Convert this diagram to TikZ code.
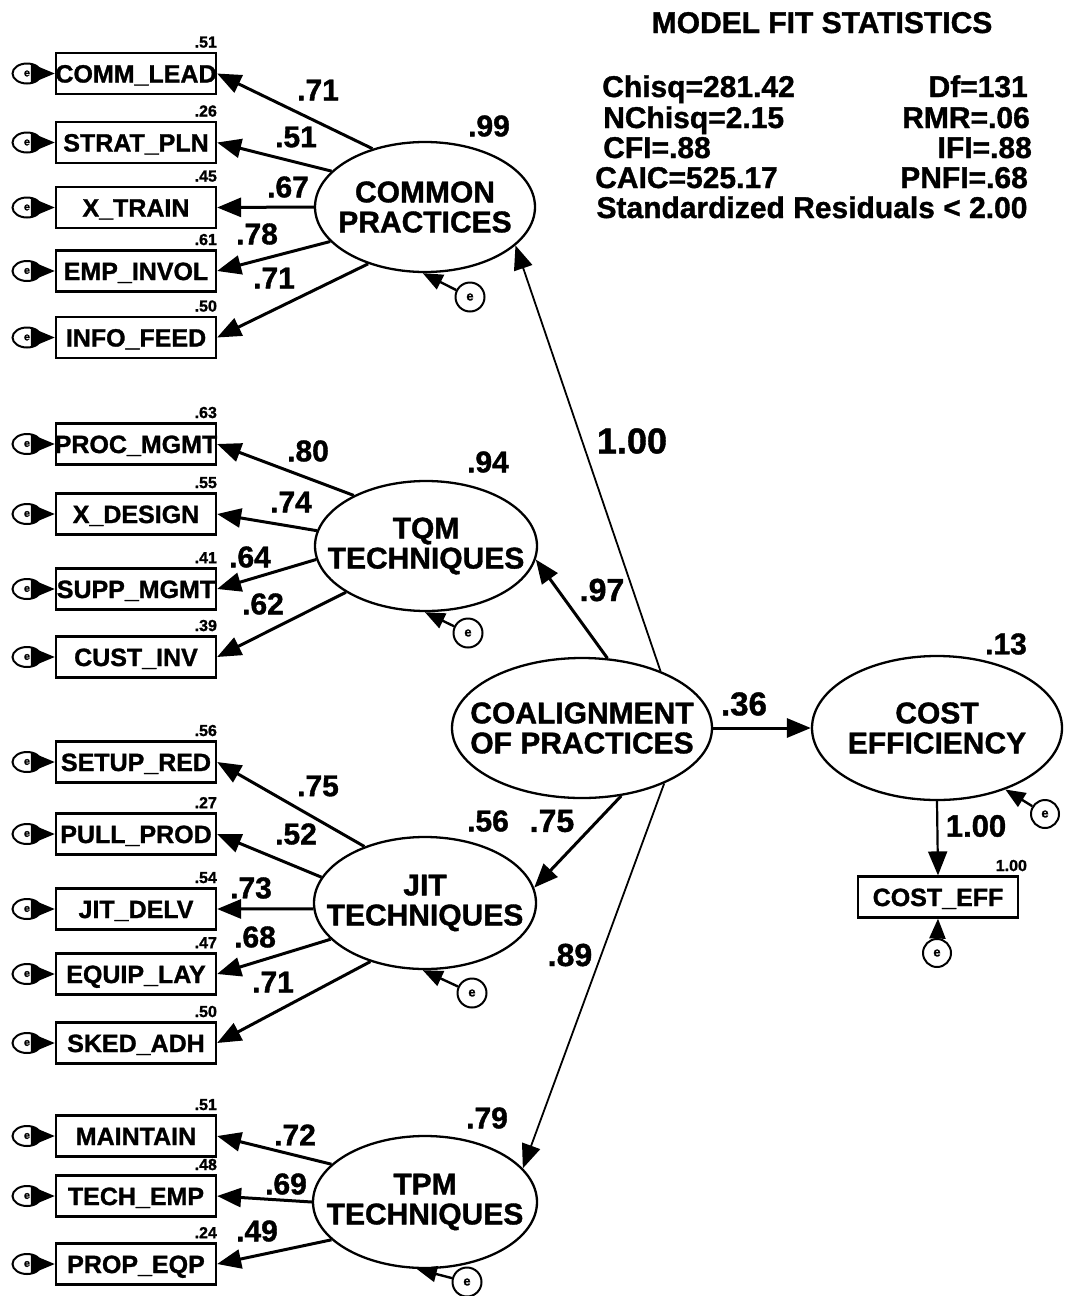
\documentclass[tikz,border=0pt]{standalone}
\usepackage{fontspec}
\setmainfont{Liberation Sans}[BoldFeatures={FakeBold=1.2}]
\usepackage{graphicx}
\usetikzlibrary{arrows.meta,shapes.geometric}
\tikzset{
  lat/.style={draw, ellipse, line width=2.3pt, inner sep=0pt},
  lattext/.style={align=center, font=\fontsize{30}{30}\selectfont\bfseries, inner sep=0pt},
  obs/.style={draw, rectangle, line width=2.2pt, minimum width=160pt, minimum height=41pt, inner sep=0pt, text height=18pt, text depth=0pt, font=\fontsize{25}{25}\selectfont\bfseries},
  erl/.style={draw, ellipse, line width=2pt, minimum width=29pt, minimum height=20pt, inner sep=0pt, font=\fontsize{11}{11}\selectfont\bfseries},
  erc/.style={draw, circle, line width=2pt, minimum size=29pt, inner sep=0pt, font=\fontsize{13}{13}\selectfont\bfseries},
  ld/.style={font=\fontsize{30}{30}\selectfont\bfseries, inner sep=0pt},
  ldb/.style={font=\fontsize{36}{36}\selectfont\bfseries, inner sep=0pt},
  rsq/.style={font=\fontsize{16}{16}\selectfont\bfseries, inner sep=0pt, anchor=south east, yshift=4pt},
  arr/.style={line width=3pt, -{Triangle[length=24pt,width=19pt]}},
  thinarr/.style={line width=1.8pt, -{Triangle[length=24pt,width=19pt]}},
  earr/.style={line width=2.4pt, -{Triangle[length=20pt,width=16pt]}},
  st/.style={font=\fontsize{30}{30}\selectfont\bfseries, inner sep=0pt},
}
\newcommand{\bx}[1]{\makebox[0pt]{#1}}
\begin{document}
\begin{tikzpicture}[x=1pt,y=-1pt]
\fill[white] (0,0) rectangle (1068,1296);
\useasboundingbox (0,0) rectangle (1068,1296);

% ---------- model fit statistics ----------
\node[st, anchor=base] (title) at (822,33) {MODEL FIT STATISTICS};
\node[st, anchor=base west] (s1) at (602,97) {Chisq=281.42};
\node[st, anchor=base west] (s2) at (603,128) {NChisq=2.15};
\node[st, anchor=base west] (s3) at (603,158) {CFI=.88};
\node[st, anchor=base west] (s4) at (595,188) {CAIC=525.17};
\node[st, anchor=base east] (r1) at (1028,97) {Df=131};
\node[st, anchor=base east] (r2) at (1030,128) {RMR=.06};
\node[st, anchor=base east] (r3) at (1032,158) {IFI=.88};
\node[st, anchor=base east] (r4) at (1028,188) {PNFI=.68};
\node[st, anchor=base] (s5) at (812,218) {Standardized Residuals < 2.00};

% ---------- latent variables ----------
\node[lat, minimum width=220pt, minimum height=130pt] (cp) at (425,207) {};
\node[lattext] (cpt) at (cp.center) {COMMON\\PRACTICES};
\node[lat, minimum width=222pt, minimum height=130pt] (tqm) at (426,546) {};
\node[lattext] (tqmt) at (tqm.center) {TQM\\TECHNIQUES};
\node[lat, minimum width=222pt, minimum height=132pt] (jit) at (425,903) {};
\node[lattext] (jitt) at (jit.center) {JIT\\TECHNIQUES};
\node[lat, minimum width=224pt, minimum height=132pt] (tpm) at (425,1202) {};
\node[lattext] (tpmt) at (tpm.center) {TPM\\TECHNIQUES};
\node[lat, minimum width=260pt, minimum height=140pt] (co) at (582,728) {};
\node[lattext] (cot) at (co.center) {COALIGNMENT\\OF PRACTICES};
\node[lat, minimum width=250pt, minimum height=144pt] (cost) at (937,728) {};
\node[lattext] (costt) at (cost.center) {COST\\EFFICIENCY};

% ---------- indicators ----------
\node[obs] (b11) at (136,73.5) {\bx{COMM\_LEAD}};
\node[obs] (b12) at (136,142.5) {\bx{STRAT\_PLN}};
\node[obs] (b13) at (136,207.5) {\bx{X\_TRAIN}};
\node[obs] (b14) at (136,271) {\bx{EMP\_INVOL}};
\node[obs] (b15) at (136,337.5) {\bx{INFO\_FEED}};
\node[obs] (b21) at (136,444) {\bx{PROC\_MGMT}};
\node[obs] (b22) at (136,514) {\bx{X\_DESIGN}};
\node[obs] (b23) at (136,589) {\bx{SUPP\_MGMT}};
\node[obs] (b24) at (136,657) {\bx{CUST\_INV}};
\node[obs] (b31) at (136,762) {\bx{SETUP\_RED}};
\node[obs] (b32) at (136,834) {\bx{PULL\_PROD}};
\node[obs] (b33) at (136,909) {\bx{JIT\_DELV}};
\node[obs] (b34) at (136,974) {\bx{EQUIP\_LAY}};
\node[obs] (b35) at (136,1043) {\bx{SKED\_ADH}};
\node[obs] (b41) at (136,1136) {\bx{MAINTAIN}};
\node[obs] (b42) at (136,1196) {\bx{TECH\_EMP}};
\node[obs] (b43) at (136,1264) {\bx{PROP\_EQP}};
\node[obs] (ce) at (938,897) {\bx{COST\_EFF}};

% ---------- squared multiple correlations ----------
\node[rsq] (q11) at (b11.north east) {.51};
\node[rsq] (q12) at (b12.north east) {.26};
\node[rsq] (q13) at (b13.north east) {.45};
\node[rsq] (q14) at (b14.north east) {.61};
\node[rsq] (q15) at (b15.north east) {.50};
\node[rsq] (q21) at (b21.north east) {.63};
\node[rsq] (q22) at (b22.north east) {.55};
\node[rsq] (q23) at (b23.north east) {.41};
\node[rsq] (q24) at (b24.north east) {.39};
\node[rsq] (q31) at (b31.north east) {.56};
\node[rsq] (q32) at (b32.north east) {.27};
\node[rsq] (q33) at (b33.north east) {.54};
\node[rsq] (q34) at (b34.north east) {.47};
\node[rsq] (q35) at (b35.north east) {.50};
\node[rsq] (q41) at (b41.north east) {.51};
\node[rsq] (q42) at (b42.north east) {.48};
\node[rsq] (q43) at (b43.north east) {.24};
\node[rsq, xshift=8pt] (qce) at (ce.north east) {1.00};

% ---------- measurement errors (left) ----------
\foreach \n/\y in {11/73.5,12/142.5,13/207.5,14/271,15/337.5,21/444,22/514,23/589,24/657,31/762,32/834,33/909,34/974,35/1043,41/1136,42/1196,43/1264}{
  \node[erl] (e\n) at (27,\y) {e};
  \draw[arr] (e\n) -- (b\n.west);
}

% ---------- loadings ----------
\draw[arr] (cp.132) -- (b11.east);
\draw[arr] (cp.159) -- (b12.east);
\draw[arr] (cp.180) -- (b13.east);
\draw[arr] (cp.200) -- (b14.east);
\draw[arr] (cp.225) -- (b15.east);
\draw[arr] (tqm.145) -- (b21.east);
\draw[arr] (tqm.172) -- (b22.east);
\draw[arr] (tqm.187) -- (b23.east);
\draw[arr] (tqm.210) -- (b24.east);
\draw[arr] (jit.137) -- (b31.east);
\draw[arr] (jit.166) -- (b32.east);
\draw[arr] (jit.183) -- (b33.east);
\draw[arr] (jit.201) -- (b34.east);
\draw[arr] (jit.227) -- (b35.east);
\draw[arr] (tpm.158) -- (b41.east);
\draw[arr] (tpm.180) -- (b42.east);
\draw[arr] (tpm.202) -- (b43.east);

\node[ld] (l11) at (318,90) {.71};
\node[ld] (l12) at (296,137) {.51};
\node[ld] (l13) at (288,187) {.67};
\node[ld] (l14) at (257,234) {.78};
\node[ld] (l15) at (274,278) {.71};
\node[ld] (l21) at (308,451) {.80};
\node[ld] (l22) at (291,502) {.74};
\node[ld] (l23) at (250,557) {.64};
\node[ld] (l24) at (263,604) {.62};
\node[ld] (l31) at (318,786) {.75};
\node[ld] (l32) at (296,834) {.52};
\node[ld] (l33) at (251,888) {.73};
\node[ld] (l34) at (255,937) {.68};
\node[ld] (l35) at (273,982) {.71};
\node[ld] (l41) at (295,1135) {.72};
\node[ld] (l42) at (286,1184) {.69};
\node[ld] (l43) at (257,1231) {.49};

% ---------- R2 of latent ----------
\node[ld] (rcp) at (489,126) {.99};
\node[ld] (rtqm) at (488,462) {.94};
\node[ld] (rjit) at (488,821) {.56};
\node[ld] (rtpm) at (487,1118) {.79};
\node[ld] (rcost) at (1006,644) {.13};

% ---------- disturbances ----------
\node[erc] (ecp) at (470,297) {e};
\node[erc] (etqm) at (468,633) {e};
\node[erc] (ejit) at (472,993) {e};
\node[erc] (etpm) at (467,1282) {e};
\node[erc, minimum size=28pt] (ecost) at (1045,814) {e};
\node[erc, minimum size=28pt] (ece) at (937,953) {e};
\draw[earr] (ecp) -- (cp.268);
\draw[earr] (etqm) -- (tqm.269);
\draw[earr] (ejit) -- (jit.268);
\draw[earr] (etpm) -- (tpm.263);
\draw[earr] (ecost) -- (cost.318);
\draw[earr] (ece) -- (ce.south);

% ---------- structural paths ----------
\draw[thinarr] (co.36) -- (cp.337);
\draw[arr] (co.70) -- (tqm.353);
\draw[arr] (co.300) -- (jit.8);
\draw[thinarr] (co.326) -- (tpm.19);
\draw[arr] (co.east) -- (cost.west);
\draw[thinarr, line width=2.2pt] (cost.south) -- (ce.north);

\node[ldb] (p1) at (632,441) {1.00};
\node[ld, font=\fontsize{32}{32}\selectfont\bfseries] (p2) at (602,590) {.97};
\node[ld, font=\fontsize{32}{32}\selectfont\bfseries] (p3) at (552,821) {.75};
\node[ld, font=\fontsize{32}{32}\selectfont\bfseries] (p4) at (570,955) {.89};
\node[ld, font=\fontsize{33}{33}\selectfont\bfseries] (p5) at (744,704) {.36};
\node[ld, font=\fontsize{31}{31}\selectfont\bfseries] (p6) at (976,826) {1.00};
\end{tikzpicture}
\end{document}
